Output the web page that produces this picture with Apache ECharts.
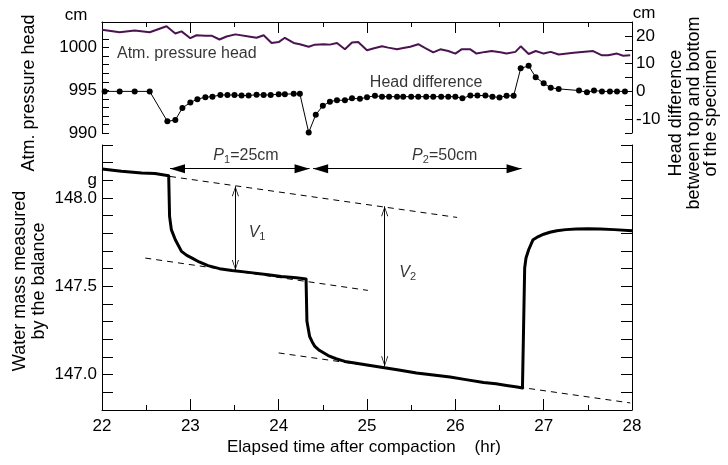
<!DOCTYPE html>
<html><head><meta charset="utf-8">
<script src="https://cdn.jsdelivr.net/npm/echarts@6/dist/echarts.min.js"></script>
<style>html,body{margin:0;padding:0;background:#fff}#c{width:728px;height:465px}</style>
</head><body><div id="c"></div>
<script>
// ---------- data ----------
const xTicks = [22, 23, 24, 25, 26, 27, 28];
// Atmospheric pressure head (cm, left axis of the top panel)
const pressTime = [22.00,22.20,22.37,22.54,22.73,22.83,22.90,23.00,23.07,23.17,23.24,23.33,23.41,23.51,23.66,23.75,23.83,23.92,24.00,24.07,24.17,24.24,24.34,24.41,24.51,24.58,24.66,24.75,24.83,24.90,25.00,25.07,25.17,25.24,25.34,25.41,25.49,25.58,25.66,25.75,25.83,25.92,26.00,26.07,26.17,26.24,26.34,26.41,26.51,26.58,26.68,26.74,26.83,26.91,27.00,27.08,27.17,27.34,27.56,27.66,27.73,27.83,27.90,27.98];
const pressHead = [1002.1,1001.8,1002.0,1001.8,1002.5,1001.65,1001.9,1001.1,1001.45,1001.4,1001.4,1000.95,1001.3,1001.55,1001.3,1001.15,1001.45,1000.55,1000.65,1001.15,1000.55,1000.4,1000.1,1000.35,1000.4,1000.35,1000.55,999.8,1000.6,1000.65,999.7,999.9,1000.15,1000.0,999.8,999.95,1000.1,1000.4,999.95,999.45,999.8,999.6,999.3,999.8,999.8,999.3,999.5,999.6,999.45,999.3,999.5,1000.15,999.25,999.6,999.3,999.5,999.2,999.4,999.6,999.1,999.1,999.3,999.05,999.1];
// Head difference between top and bottom of the specimen (cm, right axis)
const headTime = [22.03,22.20,22.37,22.54,22.74,22.83,22.91,23.00,23.08,23.17,23.25,23.34,23.42,23.50,23.58,23.66,23.75,23.83,23.91,24.00,24.07,24.17,24.24,24.34,24.42,24.50,24.58,24.66,24.75,24.83,24.92,25.00,25.09,25.17,25.25,25.34,25.41,25.50,25.58,25.67,25.75,25.84,25.92,26.00,26.08,26.17,26.25,26.34,26.42,26.50,26.58,26.66,26.74,26.83,26.91,27.00,27.08,27.17,27.40,27.49,27.57,27.66,27.75,27.83,27.92];
const headDiff = [0,0,0,0,-10.8,-10.3,-6.0,-4.0,-2.8,-2.1,-1.9,-1.3,-1.3,-1.3,-1.5,-1.5,-1.2,-1.3,-1.3,-1.0,-1.0,-0.9,-0.9,-14.8,-8.4,-5.2,-3.7,-3.2,-3.2,-2.5,-2.7,-2.1,-1.6,-1.9,-1.9,-1.9,-1.9,-1.9,-1.9,-1.9,-1.9,-1.9,-1.9,-1.9,-2.5,-1.5,-1.5,-1.5,-1.9,-2.2,-1.6,-1.6,8.3,9.2,5.1,2.9,1.3,0.9,0.3,-0.3,0.3,0,0,0,0];
// Water mass measured by the balance (g)
const massTime = [22.00,22.22,22.45,22.60,22.755,22.765,22.785,22.83,22.90,22.96,23.02,23.10,23.20,23.33,23.47,23.66,23.88,24.03,24.20,24.31,24.32,24.35,24.38,24.41,24.46,24.56,24.65,24.75,24.86,25.00,25.18,25.36,25.56,25.75,25.94,26.12,26.32,26.46,26.58,26.70,26.76,26.785,26.80,26.83,26.88,26.94,27.00,27.07,27.15,27.25,27.37,27.50,27.64,27.80,28.00];
const massValue = [148.164,148.151,148.141,148.139,148.126,147.896,147.821,147.764,147.698,147.675,147.660,147.638,147.617,147.600,147.590,147.579,147.566,147.556,147.548,147.542,147.302,147.217,147.185,147.160,147.138,147.108,147.090,147.075,147.066,147.055,147.041,147.027,147.010,146.998,146.987,146.972,146.956,146.948,146.939,146.930,146.925,147.604,147.660,147.707,147.764,147.782,147.795,147.806,147.815,147.821,147.825,147.826,147.825,147.821,147.815];
// extrapolation (dashed) lines [time, mass]
const dashUpper = [[22.77,148.122],[26.02,147.890]];
const dashMiddle = [[22.49,147.660],[25.01,147.477]];
const dashLower = [[24.00,147.123],[27.98,146.840]];
// pressure step arrows: [start, end] times at a mass level
const pArrowLevel = 148.166;
const pArrows = [[22.77,24.35],[24.39,26.75]];
// volume arrows: [time, top, bottom]
const vArrows = [[23.51,148.066,147.592],[25.20,147.953,147.047]];
// text annotations
const topNotes = [
  {text:'Atm. pressure head', at:[22.96,999.35]},
  {text:'Head difference', at:[25.67,995.86]}
];
const bottomNotes = [
  {text:'{i|P}{s|1}{n|=25cm}', at:[23.63,148.239]},
  {text:'{i|P}{s|2}{n|=50cm}', at:[25.88,148.239]},
  {text:'{i|V}{s|1}', at:[23.755,147.804]},
  {text:'{i|V}{s|2}', at:[25.46,147.577]}
];

// ---------- chart ----------
const FONT = "'Liberation Sans', Arial, Helvetica, sans-serif";
const BLACK = {color:'#000', width:1};
const zip = (a, b) => a.map((t, i) => [t, b[i]]);
const chart = echarts.init(document.getElementById('c'), null, {renderer:'canvas'});

const noSplit = {splitLine:{show:false}, minorSplitLine:{show:false}, splitArea:{show:false}};
const tickLbl = {color:'#000', fontSize:17, fontFamily:FONT};

const richText = {
  i:{fontStyle:'italic', fontSize:16, fontFamily:FONT, color:'#000', lineHeight:20},
  n:{fontSize:16, fontFamily:FONT, color:'#000', lineHeight:20},
  s:{fontSize:11, fontFamily:FONT, color:'#000', lineHeight:11, verticalAlign:'bottom'}
};
const vHead = 'path://M0,0 L4,12 L3,12 L0,2 L-3,12 L-4,12 Z';

const option = {
  animation:false,
  backgroundColor:'#fff',
  grid:[
    {left:102, right:96, top:22, height:111},
    {left:102, right:96, top:145, height:265}
  ],
  xAxis:[
    Object.assign({gridIndex:0, type:'value', min:22, max:28, interval:1, position:'top',
      axisLine:{show:true, onZero:false, lineStyle:BLACK},
      axisTick:{show:true, inside:true, length:11, lineStyle:BLACK},
      minorTick:{show:true, splitNumber:2, length:5, lineStyle:BLACK},
      axisLabel:{show:false}}, noSplit),
    Object.assign({gridIndex:1, type:'value', min:22, max:28, interval:1, position:'bottom',
      axisLine:{show:true, onZero:false, lineStyle:BLACK},
      axisTick:{show:true, inside:true, length:11, lineStyle:BLACK},
      minorTick:{show:true, splitNumber:2, length:5, lineStyle:BLACK},
      axisLabel:Object.assign({margin:8, formatter:v => xTicks.includes(Math.round(v)) ? String(Math.round(v)) : ''}, tickLbl)}, noSplit)
  ],
  yAxis:[
    Object.assign({gridIndex:0, type:'value', min:990, max:1003, interval:1, position:'left',
      axisLine:{show:true, onZero:false, lineStyle:BLACK},
      axisTick:{show:true, inside:true, length:7, lineStyle:BLACK},
      axisLabel:Object.assign({margin:5, formatter:v => (Math.round(v) % 5 === 0) ? String(Math.round(v)) : ''}, tickLbl)}, noSplit),
    Object.assign({gridIndex:0, type:'value', min:-15, max:25, interval:5, position:'right',
      axisLine:{show:true, onZero:false, lineStyle:BLACK},
      axisTick:{show:true, inside:true, length:7, lineStyle:BLACK},
      axisLabel:Object.assign({margin:4, formatter:v => (Math.round(v) % 10 === 0) ? String(Math.round(v)) : ''}, tickLbl)}, noSplit),
    Object.assign({gridIndex:1, type:'value', min:146.8, max:148.3, interval:0.1, position:'left',
      axisLine:{show:true, onZero:false, lineStyle:BLACK},
      axisTick:{show:true, inside:true, length:11, lineStyle:BLACK},
      axisLabel:Object.assign({margin:5, formatter:v => {
        const k = Math.round(v * 10);
        if (k === 1470 || k === 1475 || k === 1480) return (k / 10).toFixed(1);
        if (k === 1481) return 'g';
        return '';
      }}, tickLbl)}, noSplit),
    Object.assign({gridIndex:1, type:'value', min:146.8, max:148.3, interval:0.1, position:'right',
      axisLine:{show:true, onZero:false, lineStyle:BLACK},
      axisTick:{show:true, inside:true, length:11, lineStyle:BLACK},
      axisLabel:{show:false}}, noSplit)
  ],
  series:[
    {type:'line', name:'Atm. pressure head', xAxisIndex:0, yAxisIndex:0, data:zip(pressTime, pressHead),
      symbol:'none', lineStyle:{color:'#4a1450', width:2}, itemStyle:{color:'#4a1450'}, silent:true},
    {type:'line', name:'Head difference', xAxisIndex:0, yAxisIndex:1, data:zip(headTime, headDiff),
      symbol:'circle', symbolSize:6, showAllSymbol:true, lineStyle:{color:'#000', width:1}, itemStyle:{color:'#000'}, silent:true},
    {type:'line', name:'Water mass', xAxisIndex:1, yAxisIndex:2, data:zip(massTime, massValue),
      symbol:'none', lineStyle:{color:'#000', width:3, join:'round'}, silent:true},
    {type:'line', xAxisIndex:1, yAxisIndex:2, data:dashUpper, symbol:'none', silent:true,
      lineStyle:{color:'#000', width:1, type:[6,5]},
      markLine:{silent:true, animation:false, label:{show:false}, symbol:['none','none'],
        lineStyle:{type:'solid', color:'#000', width:1},
        emphasis:{disabled:true},
        data: pArrows.map(a => [
          {coord:[a[0], pArrowLevel], symbol:'triangle', symbolSize:[9,15], symbolOffset:[0,7.5]},
          {coord:[a[1], pArrowLevel], symbol:'triangle', symbolSize:[9,15], symbolOffset:[0,7.5]}
        ]).concat(vArrows.map(a => [
          {coord:[a[0], a[1]], symbol:vHead, symbolSize:[7,10], symbolOffset:[0,5]},
          {coord:[a[0], a[2]], symbol:vHead, symbolSize:[7,10], symbolOffset:[0,5]}
        ]))}},
    {type:'line', xAxisIndex:1, yAxisIndex:2, data:dashMiddle, symbol:'none', silent:true,
      lineStyle:{color:'#000', width:1, type:[6,5]}},
    {type:'line', xAxisIndex:1, yAxisIndex:2, data:dashLower, symbol:'none', silent:true,
      lineStyle:{color:'#000', width:1, type:[6,5]}},
    {type:'scatter', xAxisIndex:0, yAxisIndex:0, silent:true, symbolSize:1, itemStyle:{color:'rgba(0,0,0,0)'},
      label:{show:true, position:'inside', color:'#000', fontSize:16, fontFamily:FONT},
      data: topNotes.map(n => ({value:n.at, label:{formatter:n.text}}))},
    {type:'scatter', xAxisIndex:1, yAxisIndex:2, silent:true, symbolSize:1, itemStyle:{color:'rgba(0,0,0,0)'},
      label:{show:true, position:'inside', color:'#000', rich:richText},
      data: bottomNotes.map(n => ({value:n.at, label:{formatter:n.text}}))}
  ],
  graphic:[
    {type:'text', x:29, y:93, rotation:Math.PI/2, silent:true,
      style:{text:'Atm. pressure head', fontSize:18, fontFamily:FONT, fill:'#000', align:'center', verticalAlign:'middle'}},
    {type:'text', x:30, y:281, rotation:Math.PI/2, silent:true,
      style:{text:'Water mass measured\nby the balance', fontSize:18, fontFamily:FONT, fill:'#000', align:'center', verticalAlign:'middle', lineHeight:19}},
    {type:'text', x:694, y:113, rotation:Math.PI/2, silent:true,
      style:{text:'Head difference\nbetween top and bottom\nof the specimen', fontSize:18, fontFamily:FONT, fill:'#000', align:'center', verticalAlign:'middle', lineHeight:17.5}},
    {type:'text', x:76, y:15, silent:true,
      style:{text:'cm', fontSize:17, fontFamily:FONT, fill:'#000', align:'center', verticalAlign:'middle'}},
    {type:'text', x:644, y:13, silent:true,
      style:{text:'cm', fontSize:17, fontFamily:FONT, fill:'#000', align:'center', verticalAlign:'middle'}},
    {type:'text', x:364, y:447, silent:true,
      style:{text:'Elapsed time after compaction    (hr)', fontSize:17, fontFamily:FONT, fill:'#000', align:'center', verticalAlign:'middle'}}
  ]
};
chart.setOption(option);
</script></body></html>
